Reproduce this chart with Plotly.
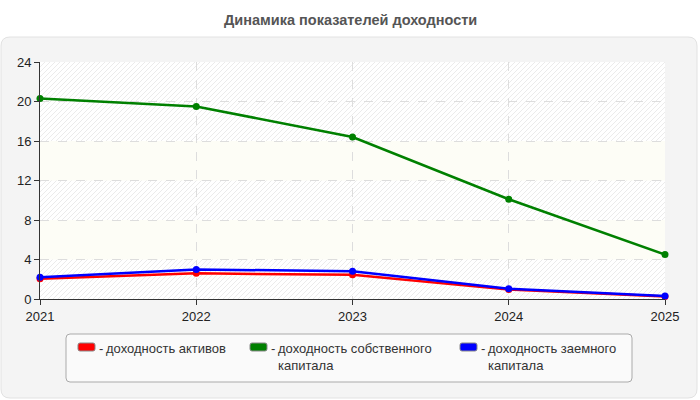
import base64
import plotly.graph_objects as go

years = [2021, 2022, 2023, 2024, 2025]
roa = [2.05, 2.6, 2.45, 0.95, 0.25]
roe = [20.3, 19.5, 16.4, 10.1, 4.5]
rod = [2.2, 3.0, 2.8, 1.05, 0.3]
series_names = ["доходность активов", "доходность собственного<br>капитала", "доходность заемного<br>капитала"]
colors = ["#ff0000", "#008000", "#0000ff"]
y_ticks = [0, 4, 8, 12, 16, 20, 24]
title = "Динамика показателей доходности"

W, H = 700, 400
L, R, T, B = 40, 35, 62, 101
PW, PH = W - L - R, H - T - B
FONT = "Liberation Sans, Arial"


def px(x):
    return (x - L) / PW


def py(y):
    return (H - B - y) / PH


# background texture for the plot area (hatched with plain light bands)
def vy(v):
    return PH * (24 - v) / 24

bands = "".join(
    f'<rect x="0" y="{vy(b):.1f}" width="{PW}" height="{vy(a) - vy(b):.1f}" fill="#fdfdf6"/>'
    for a, b in [(12, 16), (4, 8)]
)
svg = (
    f'<svg xmlns="http://www.w3.org/2000/svg" width="{PW}" height="{PH}" viewBox="0 0 {PW} {PH}">'
    '<defs><pattern id="h" patternUnits="userSpaceOnUse" width="5" height="5">'
    '<rect width="5" height="5" fill="#ffffff"/>'
    '<path d="M-1,1 L1,-1 M0,5 L5,0 M4,6 L6,4" stroke="#ebebeb" stroke-width="1"/>'
    '</pattern></defs>'
    f'<rect width="{PW}" height="{PH}" fill="url(#h)"/>' + bands + '</svg>'
)
src = "data:image/svg+xml;base64," + base64.b64encode(svg.encode()).decode()

fig = go.Figure()
for vals, c in zip([roa, roe, rod], colors):
    fig.add_trace(go.Scatter(x=years, y=vals, mode="lines+markers",
                             line=dict(color=c, width=2.5),
                             marker=dict(color=c, size=7),
                             showlegend=False, cliponaxis=False))


def rpath(ax0, ax1, ay0, ay1, rad):
    rx, ry = rad / PW, rad / PH
    X0, X1, Y0, Y1 = px(ax0), px(ax1), py(ay0), py(ay1)
    return (f"M {X0+rx},{Y0} L {X1-rx},{Y0} Q {X1},{Y0} {X1},{Y0-ry} "
            f"L {X1},{Y1+ry} Q {X1},{Y1} {X1-rx},{Y1} L {X0+rx},{Y1} "
            f"Q {X0},{Y1} {X0},{Y1+ry} L {X0},{Y0-ry} Q {X0},{Y0} {X0+rx},{Y0} Z")


shapes = []
shapes.append(dict(type="path", xref="paper", yref="paper", path=rpath(1, 697, 37, 398, 9),
                   fillcolor="#f4f4f4", line=dict(color="#e2e2e2", width=1), layer="below"))
shapes.append(dict(type="path", xref="paper", yref="paper", path=rpath(66, 632, 334, 382, 4),
                   fillcolor="#fafafa", line=dict(color="#aaaaaa", width=1), layer="below"))

annotations = [dict(text=f"<b>{title}</b>", xref="paper", yref="paper", x=px(350), y=py(20),
                    showarrow=False, font=dict(size=14.5, color="#555555", family=FONT),
                    xanchor="center", yanchor="middle")]

sw_x = [78, 250, 460]
for sx, c, name in zip(sw_x, colors, series_names):
    shapes.append(dict(type="path", xref="paper", yref="paper", path=rpath(sx, sx + 17, 343, 351, 2),
                       fillcolor=c, line=dict(color="#888888", width=1), layer="above"))
    annotations.append(dict(text="-", xref="paper", yref="paper", x=px(sx + 19), y=py(339),
                            showarrow=False, xanchor="left", yanchor="top",
                            font=dict(size=13, color="#333333", family=FONT)))
    annotations.append(dict(text=name, xref="paper", yref="paper", x=px(sx + 26), y=py(339),
                            showarrow=False, xanchor="left", yanchor="top", align="left",
                            font=dict(size=13, color="#333333", family=FONT)))

fig.update_layout(
    width=W, height=H,
    margin=dict(l=L, r=R, t=T, b=B),
    paper_bgcolor="#ffffff",
    plot_bgcolor="rgba(0,0,0,0)",
    shapes=shapes,
    annotations=annotations,
    images=[dict(source=src, xref="x", yref="y", x=2021, y=24, sizex=4, sizey=24,
                 sizing="stretch", xanchor="left", yanchor="top", layer="below")],
    font=dict(family=FONT, size=13, color="#222222"),
    xaxis=dict(range=[2021, 2025], tickvals=years, ticktext=[str(y) for y in years],
               showgrid=True, gridcolor="#dddddd", griddash="dash", gridwidth=1,
               showline=True, linecolor="#333333", linewidth=1,
               ticks="outside", ticklen=5, tickcolor="#333333", zeroline=False,
               tickfont=dict(size=13, color="#222222")),
    yaxis=dict(range=[0, 24], tickvals=y_ticks,
               showgrid=True, gridcolor="#dddddd", griddash="dash", gridwidth=1,
               showline=True, linecolor="#333333", linewidth=1,
               ticks="outside", ticklen=5, tickcolor="#333333", zeroline=False,
               tickfont=dict(size=13, color="#222222")),
)

fig.write_html("out.html")
